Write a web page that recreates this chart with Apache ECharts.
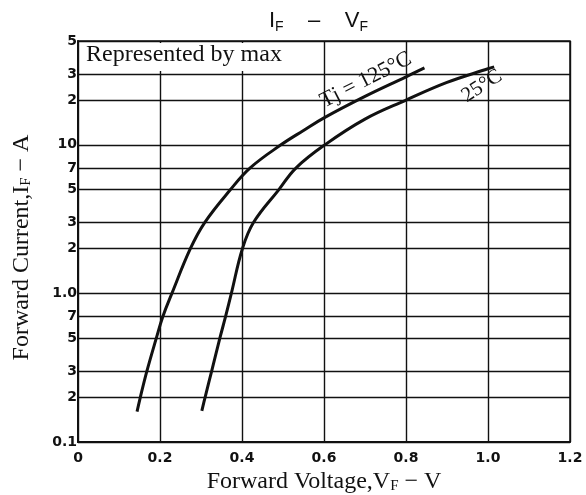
<!DOCTYPE html>
<html>
<head>
<meta charset="utf-8">
<script src="https://cdn.jsdelivr.net/npm/echarts@6/dist/echarts.min.js"></script>
<style>html,body{margin:0;padding:0;background:#fff}#c{width:586px;height:495px}</style>
</head>
<body>
<div id="c"></div>
<script>
// Data
var curve125 = [[0.144,0.16],[0.152,0.2],[0.168,0.3],[0.191,0.5],[0.207,0.7],[0.229,1.0],[0.274,2],[0.309,3],[0.372,5],[0.42,7],[0.495,10],[0.55,12.5],[0.6,15.2],[0.7,21.2],[0.8,28.7],[0.845,33]];
var curve25 = [[0.302,0.162],[0.31,0.2],[0.326,0.3],[0.346,0.5],[0.36,0.7],[0.374,1.0],[0.401,2],[0.428,3],[0.49,5],[0.532,7],[0.602,10],[0.7,14.9],[0.8,20],[0.9,26.3],[1.0,32.5],[1.015,33.5]];
var yTickValues = [0.1,0.2,0.3,0.5,0.7,1,2,3,5,7,10,20,30,50];
var yTickLabels = ['0.1','2','3','5','7','1.0','2','3','5','7','10','2','3','5'];
var xTickLabels = ['0','0.2','0.4','0.6','0.8','1.0','1.2'];

var serif = 'Liberation Serif';
var sans = 'DejaVu Sans';
var ink = '#111';

var chart = echarts.init(document.getElementById('c'), null, {renderer:'canvas'});
chart.setOption({
  animation: false,
  backgroundColor: '#fff',
  title: {
    text: '{a|I}{s|F}{a|    –    }{a|V}{s|F}',
    left: 264, top: 3,
    textStyle: {
      rich: {
        a: {fontFamily: 'Liberation Sans', fontWeight: 'normal', fontSize: 22, color: ink, lineHeight: 26},
        s: {fontFamily: 'Liberation Sans', fontWeight: 'normal', fontSize: 14, color: ink, verticalAlign: 'bottom', lineHeight: 20}
      }
    }
  },
  grid: {left: 78, right: 16, top: 41, bottom: 53, show: true, borderColor: ink, borderWidth: 1.5,
         backgroundColor: 'transparent', containLabel: false, outerBoundsMode: 'none'},
  xAxis: {
    type: 'value', min: 0, max: 1.2, interval: 0.2,
    axisLine: {show: true, lineStyle: {color: ink, width: 2}},
    axisTick: {show: false},
    axisLabel: {
      color: ink, fontFamily: sans, fontWeight: 'bold', fontSize: 14, margin: 9,
      formatter: function (v) { return xTickLabels[Math.round(v / 0.2)]; }
    },
    splitLine: {show: true, lineStyle: {color: ink, width: 1.4}},
    name: 'Forward Voltage,V{s|F} − V',
    nameLocation: 'middle', nameGap: 28,
    nameTextStyle: {
      fontFamily: serif, fontSize: 24, color: ink,
      rich: {s: {fontFamily: serif, fontSize: 15, color: ink, verticalAlign: 'bottom', lineHeight: 22}}
    }
  },
  yAxis: {
    type: 'log', logBase: 10, min: 0.1, max: 50,
    axisLine: {show: true, lineStyle: {color: ink, width: 2}},
    axisTick: {show: false},
    axisLabel: {show: false},
    splitLine: {show: false},
    name: 'Forward Current,I{s|F} − A',
    nameLocation: 'middle', nameGap: 44, nameRotate: 90,
    nameTextStyle: {
      fontFamily: serif, fontSize: 24, color: ink, padding: [0, 12, 0, 0],
      rich: {s: {fontFamily: serif, fontSize: 15, color: ink, verticalAlign: 'bottom', lineHeight: 22}}
    }
  },
  series: [
    {
      type: 'line', data: [], silent: true,
      markLine: {
        silent: true, symbol: 'none', animation: false,
        lineStyle: {color: ink, width: 1.4, type: 'solid'},
        label: {position: 'start', distance: 1, color: ink, fontFamily: sans, fontWeight: 'bold', fontSize: 14},
        data: yTickValues.map(function (v, i) {
          return {yAxis: v, label: {formatter: yTickLabels[i]}};
        })
      }
    },
    {
      name: 'Tj=125°C', type: 'line', data: curve125, smooth: 0.4, showSymbol: false,
      lineStyle: {color: ink, width: 3}, z: 5
    },
    {
      name: '25°C', type: 'line', data: curve25, smooth: 0.4, showSymbol: false,
      lineStyle: {color: ink, width: 3}, z: 5
    }
  ],
  graphic: [
    {type: 'rect', shape: {x: 80, y: 43, width: 212, height: 28}, style: {fill: '#fff'}, z: 100},
    {type: 'text', x: 86, y: 43, z: 101,
     style: {text: 'Represented by max', fontFamily: serif, fontSize: 24, fill: ink}},
    {type: 'text', x: 366, y: 80, rotation: 27 * Math.PI / 180, z: 101,
     style: {text: 'Tj = 125°C', fontFamily: serif, fontSize: 22, fill: ink, align: 'center', verticalAlign: 'middle'}},
    {type: 'text', x: 482, y: 86, rotation: 33 * Math.PI / 180, z: 101,
     style: {text: '25°C', fontFamily: serif, fontSize: 21, fill: ink, align: 'center', verticalAlign: 'middle'}}
  ]
});
</script>
</body>
</html>
